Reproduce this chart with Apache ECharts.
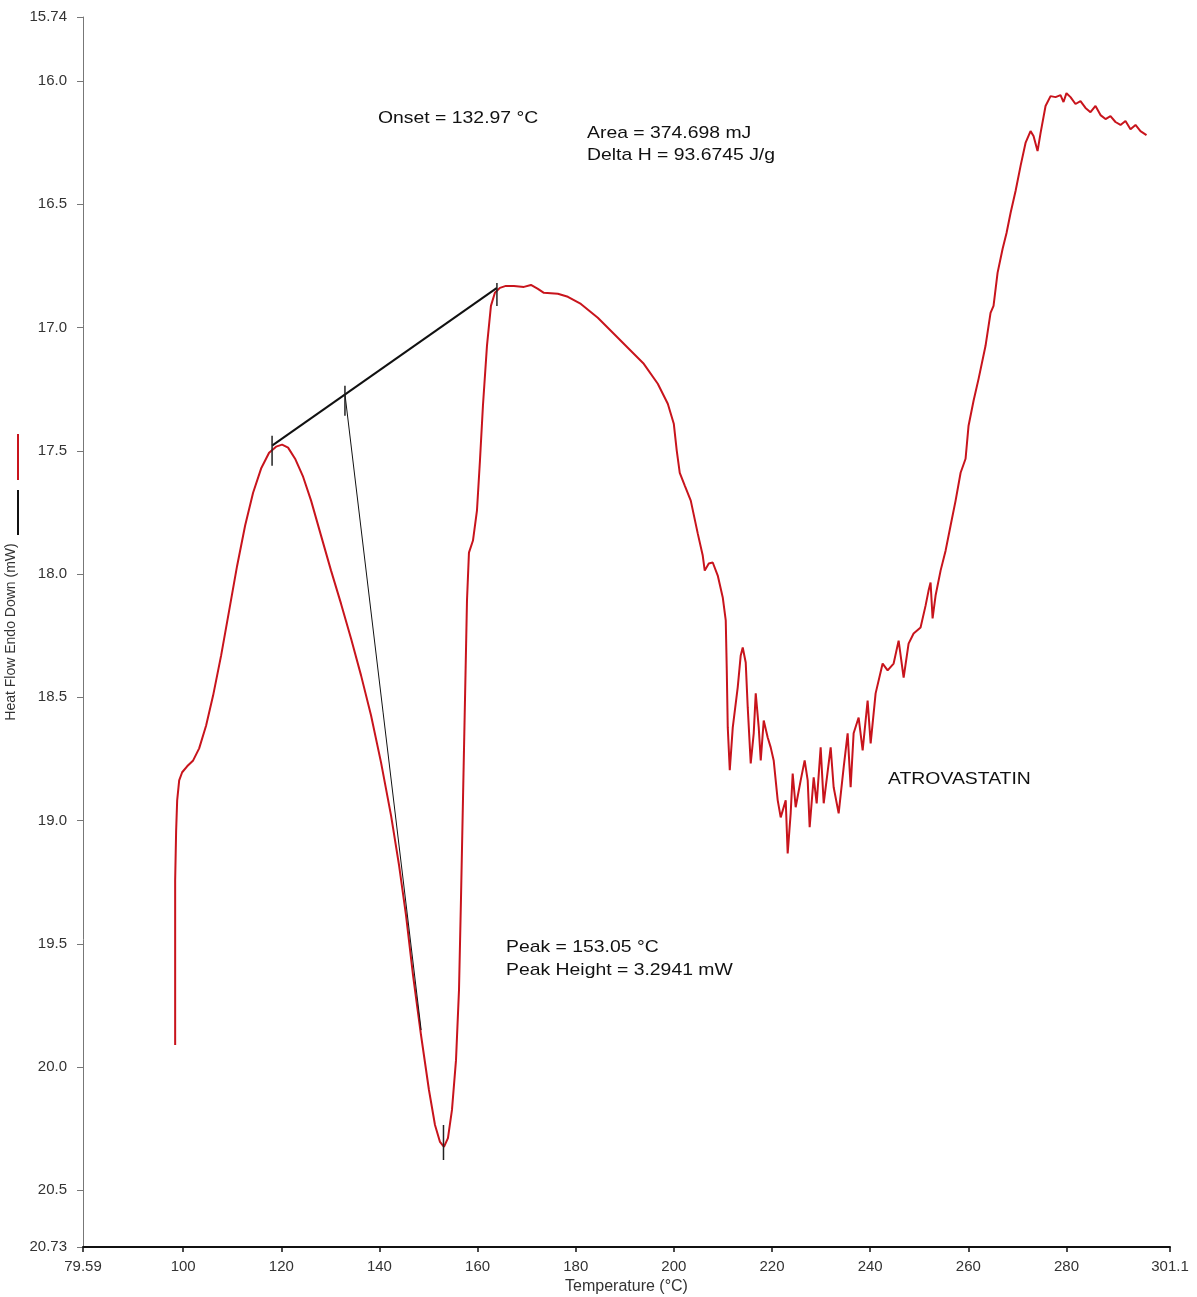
<!DOCTYPE html>
<html>
<head>
<meta charset="utf-8">
<script src="https://cdn.jsdelivr.net/npm/echarts@6/dist/echarts.min.js"></script>
<style>html,body{margin:0;padding:0;background:#fff}#c{width:1197px;height:1297px}</style>
</head>
<body>
<div id="c"></div>
<script>
// ---- data ----
const tempC = [98.37,98.37,98.37,98.57,98.78,99.19,99.80,100.81,102.04,103.26,104.68,106.11,107.74,109.37,111.00,112.63,114.25,115.88,117.51,118.94,120.16,121.38,122.81,124.44,126.07,128.10,130.14,132.17,134.21,136.25,138.28,140.32,142.36,143.99,145.41,146.84,148.47,150.09,151.32,152.34,153.15,153.96,154.78,155.60,156.21,156.61,157.02,157.43,157.84,158.24,159.06,159.87,160.48,161.09,161.91,162.72,163.53,164.55,165.77,167.40,169.44,170.87,172.29,173.51,176.36,178.40,181.05,184.50,187.76,191.22,193.87,196.72,198.76,199.98,200.59,201.20,202.22,203.44,204.87,205.88,206.29,207.11,207.92,208.94,209.96,210.57,210.78,210.98,211.39,212.00,213.01,213.62,214.03,214.64,215.05,215.66,216.27,216.68,217.29,217.70,218.31,219.12,219.73,220.34,221.16,221.77,222.79,223.19,223.80,224.21,224.82,225.84,226.65,227.27,227.67,228.49,229.10,229.91,230.53,231.95,232.56,233.58,234.60,235.41,236.02,236.63,237.65,238.47,239.48,240.10,241.11,242.54,243.56,244.78,245.80,246.82,247.83,248.85,250.27,251.29,251.90,252.31,252.72,253.33,254.35,255.37,256.39,257.41,258.43,259.44,260.05,261.07,262.09,263.51,264.53,265.14,265.96,266.98,267.79,268.61,269.63,270.65,271.66,272.68,273.29,274.11,274.72,275.74,276.76,277.78,278.79,279.40,280.00,280.83,281.84,282.86,283.88,284.90,285.92,286.94,287.96,288.97,289.99,291.01,292.03,293.05,294.07,295.08,296.31];
const heatFlow = [19.911,19.566,19.242,19.040,18.918,18.837,18.804,18.780,18.756,18.707,18.614,18.492,18.330,18.148,17.966,17.803,17.670,17.572,17.508,17.483,17.475,17.487,17.532,17.605,17.702,17.844,17.986,18.120,18.261,18.411,18.573,18.764,18.979,19.181,19.384,19.627,19.870,20.093,20.235,20.304,20.324,20.288,20.174,19.972,19.688,19.323,18.918,18.513,18.107,17.913,17.864,17.743,17.540,17.317,17.074,16.912,16.859,16.839,16.831,16.831,16.835,16.827,16.843,16.859,16.863,16.875,16.904,16.960,17.025,17.094,17.147,17.228,17.309,17.390,17.500,17.589,17.641,17.702,17.836,17.925,17.986,17.957,17.953,18.006,18.095,18.188,18.391,18.622,18.796,18.622,18.460,18.330,18.298,18.359,18.541,18.768,18.646,18.484,18.622,18.756,18.594,18.663,18.703,18.756,18.918,18.987,18.918,19.133,18.971,18.809,18.946,18.837,18.756,18.837,19.027,18.825,18.930,18.703,18.930,18.703,18.865,18.971,18.784,18.646,18.865,18.646,18.582,18.715,18.513,18.687,18.484,18.363,18.391,18.363,18.270,18.420,18.282,18.241,18.217,18.128,18.067,18.034,18.180,18.087,17.986,17.905,17.803,17.702,17.589,17.532,17.398,17.297,17.208,17.074,16.940,16.912,16.778,16.681,16.616,16.535,16.446,16.344,16.251,16.203,16.223,16.284,16.211,16.101,16.061,16.065,16.057,16.085,16.049,16.065,16.093,16.081,16.109,16.126,16.101,16.138,16.154,16.142,16.166,16.178,16.162,16.195,16.178,16.203,16.219];

// analysis construction lines
const baselineT = [118.12, 163.94];
const baselineV = [17.479, 16.839];
const tangentT = [132.97, 148.5];
const tangentV = [17.27, 19.85];
const markT = [118.12, 132.97, 163.94, 153.05];
const markTop = [17.439, 17.236, 16.819, 20.235];
const markBottom = [17.561, 17.358, 16.912, 20.377];

const xTicks = [79.59, 100, 120, 140, 160, 180, 200, 220, 240, 260, 280, 301.1];
const yTicks = [15.74, 16.0, 16.5, 17.0, 17.5, 18.0, 18.5, 19.0, 19.5, 20.0, 20.5, 20.73];

const annotations = [
  {text: 'Onset = 132.97 \u00B0C', x: 378, y: 118},
  {text: 'Area = 374.698 mJ', x: 587, y: 133},
  {text: 'Delta H = 93.6745 J/g', x: 587, y: 155},
  {text: 'Peak = 153.05 \u00B0C', x: 506, y: 947},
  {text: 'Peak Height = 3.2941 mW', x: 506, y: 970},
  {text: 'ATROVASTATIN', x: 888, y: 779}
];

// ---- chart ----
const zip = (a, b) => a.map((v, i) => [v, b[i]]);
const FONT = 'Liberation Sans, Arial, sans-serif';

const markData = [];
markT.forEach((t, i) => { markData.push([t, markTop[i]], [t, markBottom[i]], [null, null]); });

const chart = echarts.init(document.getElementById('c'), null, {renderer: 'canvas'});
chart.setOption({
  animation: false,
  backgroundColor: '#ffffff',
  grid: {left: 83, right: 27, top: 17, bottom: 50, containLabel: false, outerBoundsMode: 'none'},
  xAxis: {
    type: 'value', min: 79.59, max: 301.1,
    name: 'Temperature (\u00B0C)', nameLocation: 'middle', nameGap: 30,
    nameTextStyle: {fontFamily: FONT, fontSize: 16, color: '#333'},
    axisLine: {show: true, lineStyle: {color: '#111', width: 2}},
    axisTick: {show: true, length: 5, lineStyle: {color: '#111', width: 1.5}, customValues: xTicks},
    axisLabel: {fontFamily: FONT, fontSize: 15, color: '#333', margin: 12, customValues: xTicks,
      formatter: v => String(v)},
    splitLine: {show: false}
  },
  yAxis: {
    type: 'value', min: 15.74, max: 20.73, inverse: true,
    name: 'Heat Flow Endo Down (mW)', nameLocation: 'middle', nameGap: 54,
    nameTextStyle: {fontFamily: FONT, fontSize: 14, color: '#333'},
    axisLine: {show: true, lineStyle: {color: '#777', width: 1}},
    axisTick: {show: true, length: 6, lineStyle: {color: '#777'}, customValues: yTicks},
    axisLabel: {fontFamily: FONT, fontSize: 15, color: '#333', margin: 16, customValues: yTicks,
      formatter: v => (Math.abs(v * 2 - Math.round(v * 2)) < 1e-9 ? v.toFixed(1) : v.toFixed(2))},
    splitLine: {show: false}
  },
  series: [
    {type: 'line', data: zip(tempC, heatFlow), showSymbol: false, symbol: 'none',
      lineStyle: {color: '#c8141c', width: 2}, z: 3},
    {type: 'line', data: zip(baselineT, baselineV), symbol: 'none',
      lineStyle: {color: '#111', width: 2}, z: 4},
    {type: 'line', data: zip(tangentT, tangentV), symbol: 'none',
      lineStyle: {color: '#111', width: 1}, z: 4},
    {type: 'line', data: markData, symbol: 'none', connectNulls: false,
      lineStyle: {color: '#222', width: 1.5}, z: 5}
  ],
  graphic: [
    {type: 'line', shape: {x1: 18, y1: 434, x2: 18, y2: 480}, style: {stroke: '#c8141c', lineWidth: 2}},
    {type: 'line', shape: {x1: 18, y1: 490, x2: 18, y2: 535}, style: {stroke: '#111', lineWidth: 2}}
  ].concat(annotations.map(a => ({
    type: 'text', x: a.x, y: a.y, scaleX: 1.14, scaleY: 1,
    style: {text: a.text, fill: '#111', font: '17px ' + FONT, verticalAlign: 'middle', align: 'left'}
  })))
});
</script>
</body>
</html>
